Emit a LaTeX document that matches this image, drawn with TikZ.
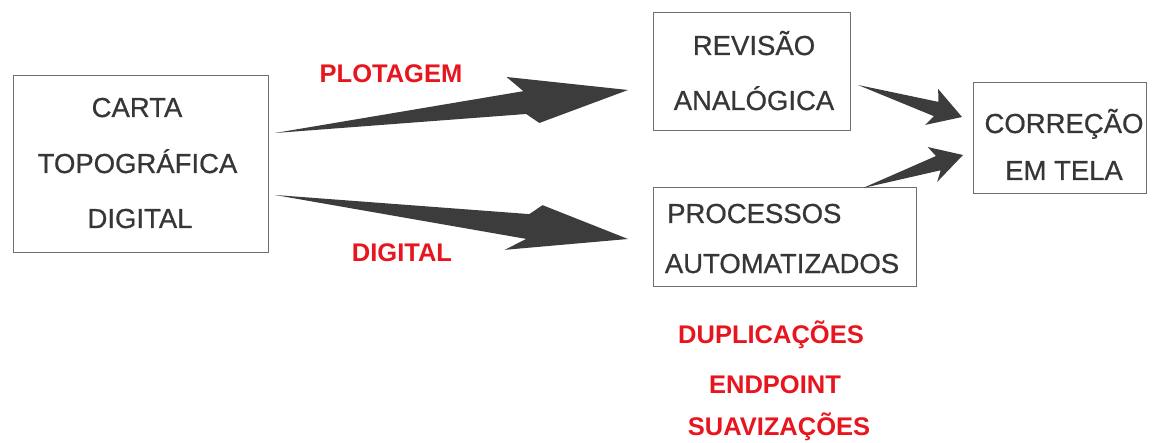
\documentclass[tikz,border=0pt]{standalone}
\usepackage{fontspec}
\setmainfont{Liberation Sans}
\newfontfamily\boxfont[FakeBold=0.6]{Liberation Sans}
\usetikzlibrary{calc}
\definecolor{boxcol}{HTML}{6E6E6E}
\definecolor{txtcol}{HTML}{363636}
\definecolor{arrcol}{HTML}{3C3C3C}
\definecolor{lblcol}{HTML}{E8141E}
\tikzset{
  box/.style={draw=boxcol,line width=1pt,inner sep=0pt,outer sep=0pt},
  txt/.style={anchor=base,inner sep=0pt,text=txtcol,font=\boxfont\fontsize{27.5}{30}\selectfont},
  lbl/.style={anchor=base,inner sep=0pt,text=lblcol,font=\bfseries\fontsize{25.5}{28}\selectfont},
  arrowfill/.style={fill=arrcol}
}
% tail, tip, top barb dist from tip, top barb half-width, bottom barb dist, bottom half-width, neck dist, shaft half-width
\newcommand{\blockarrow}[8]{%
  \path ($(#2)!#3pt!(#1)$) coordinate (ba-a)
        ($(#2)!#5pt!(#1)$) coordinate (ba-b)
        ($(#2)!#7pt!(#1)$) coordinate (ba-n);
  \fill[arrowfill] (#1) -- ($(ba-n)!#8pt!90:(#2)$) -- ($(ba-a)!#4pt!90:(#2)$) -- (#2)
     -- ($(ba-b)!#6pt!-90:(#2)$) -- ($(ba-n)!#8pt!-90:(#2)$) -- cycle;
}
\begin{document}
\begin{tikzpicture}[x=1pt,y=-1pt]
\useasboundingbox[fill=white] (0,0) rectangle (1155,443);
% boxes
\node[box,minimum width=255pt,minimum height=177pt] (carta) at (140.5,164.5) {};
\node[box,minimum width=197pt,minimum height=118pt] (revisao) at (751.5,72) {};
\node[box,minimum width=263pt,minimum height=99pt] (proc) at (784.5,237.5) {};
\node[box,minimum width=173pt,minimum height=111pt] (corr) at (1059.5,138.5) {};
% box texts
\node[txt] (c1) at (137,117) {CARTA};
\node[txt] (c2) at (137.5,173) {TOPOGRÁFICA};
\node[txt] (c3) at (140,228) {DIGITAL};
\node[txt] (r1) at (754,55) {REVISÃO};
\node[txt] (r2) at (754,110) {ANALÓGICA};
\node[txt,anchor=base west] (p1) at (667,223) {PROCESSOS};
\node[txt] (p2) at (782,273) {AUTOMATIZADOS};
\node[txt] (k1) at (1064,133) {CORREÇÃO};
\node[txt] (k2) at (1064,180) {EM TELA};
% red labels
\node[lbl] (l1) at (391,83) {PLOTAGEM};
\node[lbl] (l2) at (402,262) {DIGITAL};
\node[lbl] (l3) at (771,343) {DUPLICAÇÕES};
\node[lbl] (l4) at (775,393) {ENDPOINT};
\node[lbl] (l5) at (779,435) {SUAVIZAÇÕES};
% arrow end points
\coordinate (t1) at (275,133);
\coordinate (h1) at (628,90);
\coordinate (t2) at (275,195);
\coordinate (h2) at (628,239);
\coordinate (t3) at (858,85);
\coordinate (h3) at (962,117);
\coordinate (t4) at (863,188);
\coordinate (h4) at (963,155);
\blockarrow{t1}{h1}{119}{27.6}{92}{22}{104}{11.5}
\blockarrow{t2}{h2}{89}{23}{121}{26}{101}{12.5}
\blockarrow{t3}{h3}{31}{19.7}{33}{18.5}{27}{7.5}
\blockarrow{t4}{h4}{31}{18.6}{33}{17.5}{26}{7.5}
\end{tikzpicture}
\end{document}
